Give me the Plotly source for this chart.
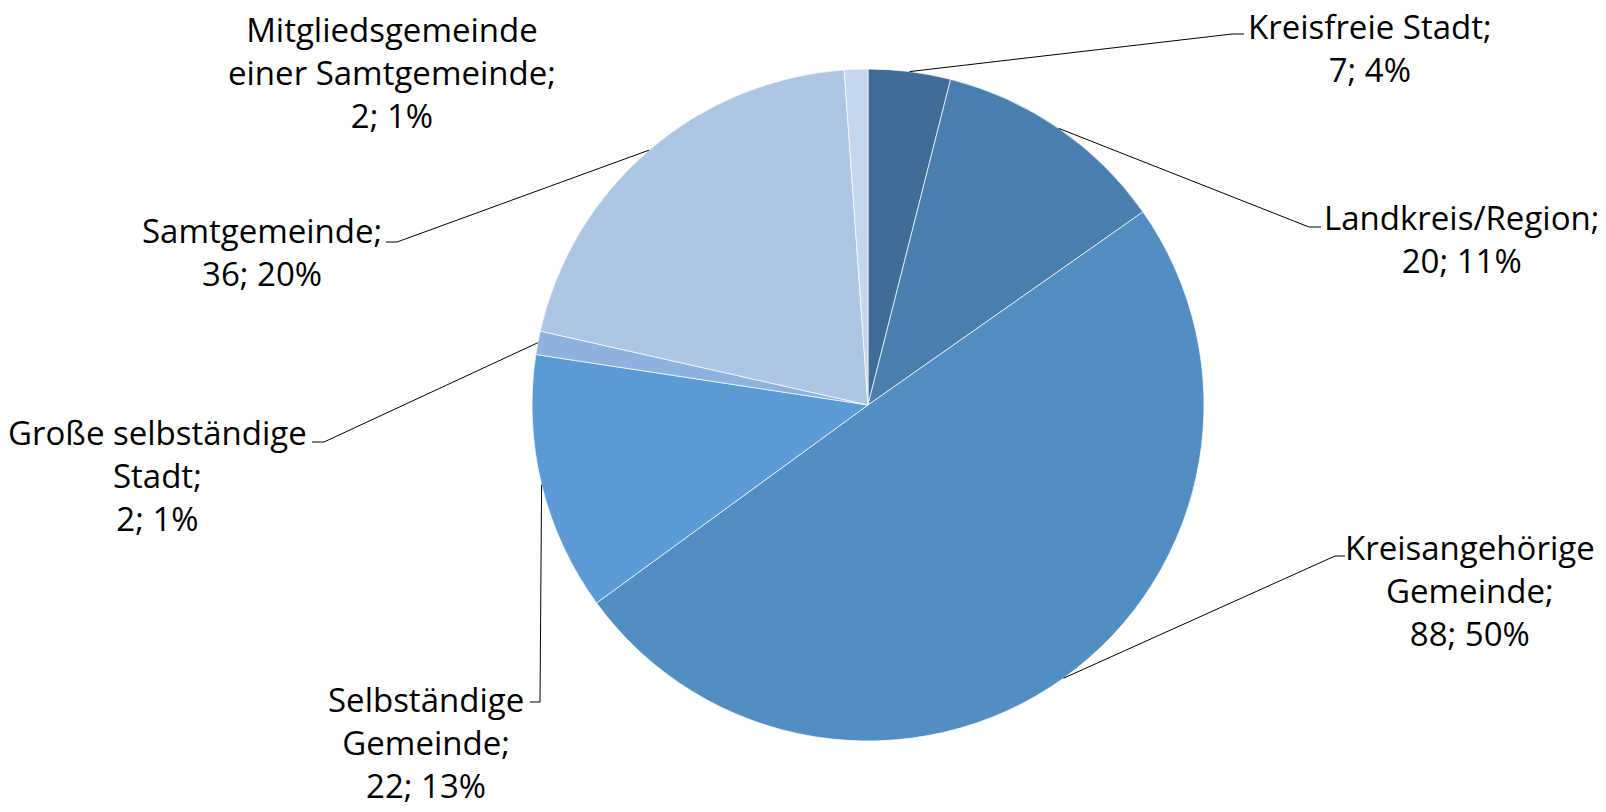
import math
import plotly.graph_objects as go

W, H = 1606, 812

categories = ["Kreisfreie Stadt", "Landkreis/Region", "Kreisangehörige Gemeinde",
              "Selbständige Gemeinde", "Große selbständige Stadt", "Samtgemeinde",
              "Mitgliedsgemeinde einer Samtgemeinde"]
values = [7, 20, 88, 22, 2, 36, 2]
label_texts = ["Kreisfreie Stadt;<br>7; 4%",
               "Landkreis/Region;<br>20; 11%",
               "Kreisangehörige<br>Gemeinde;<br>88; 50%",
               "Selbständige<br>Gemeinde;<br>22; 13%",
               "Große selbständige<br>Stadt;<br>2; 1%",
               "Samtgemeinde;<br>36; 20%",
               "Mitgliedsgemeinde<br>einer Samtgemeinde;<br>2; 1%"]
colors = ["#3F6D97", "#4A7EAF", "#528EC2", "#5B9BD5", "#8DB2DE", "#ADC6E5", "#C5D6EC"]

# layout (pixels)
CX, CY, R = 868, 405, 336
# label block centres (px)
label_pos = [(1370, 48), (1461, 239), (1470, 590), (426, 742), (157, 476), (262, 252), (392, 72)]
# leader elbows: (elbow_x, elbow_y, end_x) or None
leaders = [(1232, 34, 1244), (1309, 227, 1321), (1335, 556, 1345),
           (540, 702, 530), (324, 442, 312), (397, 242, 386), None]

def px(x):
    return x / W

def py(y):
    return 1 - y / H

fig = go.Figure()
fig.add_trace(go.Pie(
    labels=categories, values=values, sort=False, direction="clockwise", rotation=0,
    marker=dict(colors=colors, line=dict(color="rgba(255,255,255,0.7)", width=1)),
    textinfo="none", hoverinfo="label+value+percent", showlegend=False,
    domain=dict(x=[px(CX - R), px(CX + R)], y=[py(CY + R), py(CY - R)]),
))

total = sum(values)
cum = 0
shapes = []
annotations = []
for i, v in enumerate(values):
    mid = (cum + v / 2) / total * 2 * math.pi
    cum += v
    ex = CX + R * math.sin(mid)
    ey = CY - R * math.cos(mid)
    lx, ly = label_pos[i]
    annotations.append(dict(
        x=px(lx), y=py(ly), xref="paper", yref="paper", text=label_texts[i],
        showarrow=False, xanchor="center", yanchor="middle", align="center",
        font=dict(family="Open Sans, sans-serif", size=33, color="#000000"),
    ))
    if leaders[i] is not None:
        bx, by, endx = leaders[i]
        path = f"M {px(ex)},{py(ey)} L {px(bx)},{py(by)} L {px(endx)},{py(by)}"
        shapes.append(dict(type="path", xref="paper", yref="paper", path=path,
                           line=dict(color="#000000", width=1)))

fig.update_layout(
    width=W, height=H, margin=dict(l=0, r=0, t=0, b=0),
    paper_bgcolor="white", plot_bgcolor="white",
    shapes=shapes, annotations=annotations,
)
fig.write_html("out.html")
